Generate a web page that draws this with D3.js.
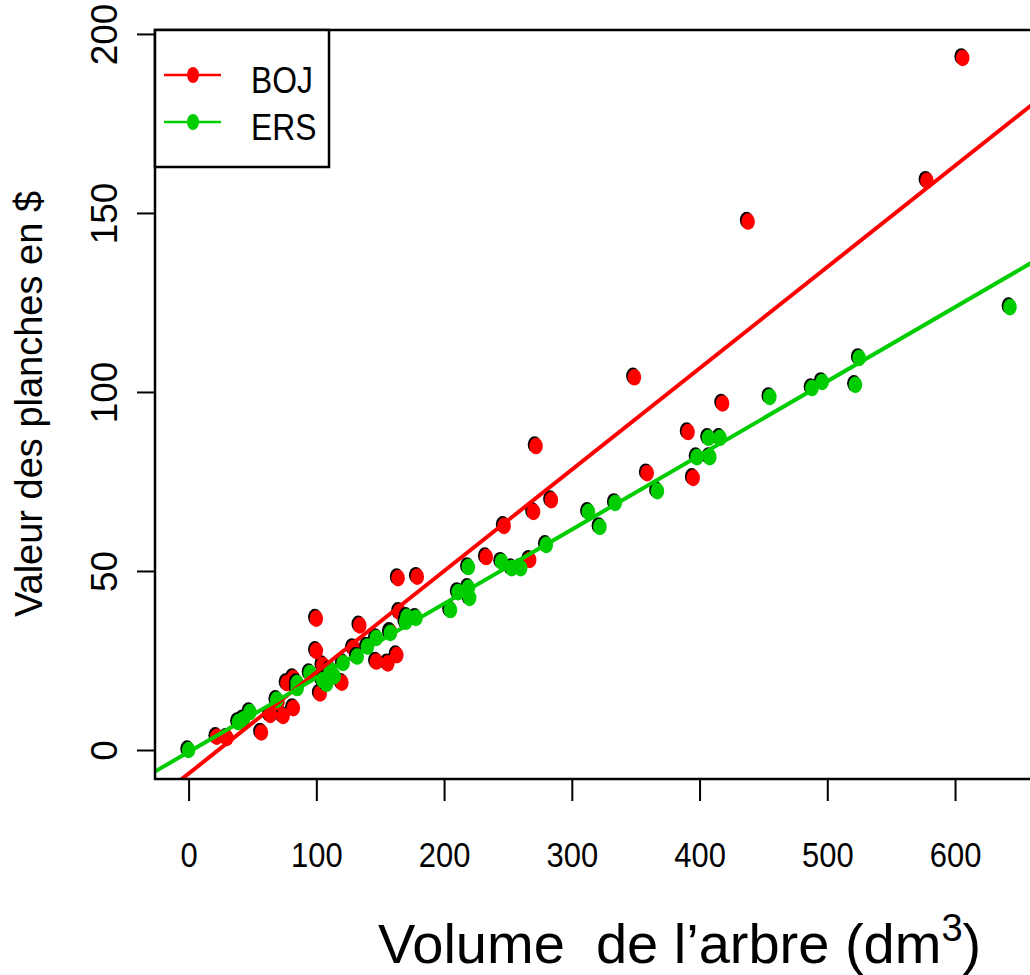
<!DOCTYPE html>
<html>
<head>
<meta charset="utf-8">
<script src="https://cdn.jsdelivr.net/npm/d3@7"></script>
<style>
body { margin:0; background:#fff; }
text { font-family: "Liberation Sans", Arial, sans-serif; fill:#000; }
</style>
</head>
<body>
<script>
var bojVol = [22,30,57,64,70,74,77,82,82,100,100,103,105,120,129,134,147,156,158,163,165,164,179,233,247,267,270,272,284,349,359,391,395,418,438,578,606];
var bojVal = [3.7,3.4,4.9,9.8,13.4,9.5,18.7,11.7,20.1,36.7,27.7,15.8,23.7,18.8,28.5,34.8,24.7,24.2,33,26.5,38.6,48.0,48.4,53.9,62.6,53.1,66.5,84.9,69.8,104.1,77.3,88.8,76.0,96.8,147.6,159.0,193.3];

var ersVol = [0,39,43,48,69,85,85,95,105,108,111,114,121,132,140,147,158,170,171,178,205,211,219,220,219,245,253,260,280,313,322,334,367,398,408,407,416,455,488,496,522,525,643];
var ersVal = [0,7.8,8.6,10.6,14.0,17.3,18.7,21.5,19.5,18.5,22.3,20.6,24.3,26.1,28.9,31.3,32.7,35.8,37.2,36.9,39.1,44.1,45.3,42.5,51.1,52.6,50.8,50.8,57.3,66.5,62.3,69.0,72.3,81.8,81.8,87.2,87.2,98.6,101.1,102.8,102.0,109.5,123.7];

// fitted lines (intercept, slope)
var bojFit = [-6.6, 0.2830];
var ersFit = [-0.56, 0.2071];

var xTicks = [0,100,200,300,400,500,600];
var yTicks = [0,50,100,150,200];
var seriesNames = ["BOJ","ERS"];
var seriesColors = ["#ff0000","#00cd00"];

var margin = {left:155, top:30};
var width = 892, height = 749;

var x = d3.scaleLinear().domain([-26.3,672]).range([0,width]);
var y = d3.scaleLinear().domain([-8.1,201.1]).range([height,0]);

var svg = d3.select("body").append("svg").attr("width",1030).attr("height",975);
svg.append("rect").attr("width",1030).attr("height",975).attr("fill","#fff");

var g = svg.append("g").attr("transform","translate("+margin.left+","+margin.top+")");

g.append("clipPath").attr("id","plotclip").append("rect").attr("width",width).attr("height",height);

var xAxis = d3.axisBottom(x).tickValues(xTicks).tickSize(22).tickFormat("");
var yAxis = d3.axisLeft(y).tickValues(yTicks).tickSize(18).tickFormat("");

var gx = g.append("g").attr("transform","translate(0,"+height+")").call(xAxis);
var gy = g.append("g").call(yAxis);
[gx,gy].forEach(function(a){
  a.select(".domain").remove();
  a.selectAll("line").attr("stroke","#000").attr("stroke-width",2);
});

gx.selectAll(".tick").append("g")
  .attr("transform","translate(0,88) scale(0.86,1)")
  .append("text").attr("text-anchor","middle").attr("font-size",36)
  .text(function(d){ return d; });

gy.selectAll(".tick").append("g")
  .attr("transform","translate(-38,0) rotate(-90)")
  .append("text").attr("text-anchor","middle").attr("font-size",37)
  .text(function(d){ return d; });

var pts = g.append("g");
function drawPoints(vols, vals, color){
  var d = vols.map(function(v,i){ return [v, vals[i]]; });
  var s = pts.append("g");
  s.selectAll("ellipse.sh").data(d).enter().append("ellipse")
    .attr("cx",function(p){ return x(p[0])-1.5; })
    .attr("cy",function(p){ return y(p[1])-1.5; })
    .attr("rx",6.8).attr("ry",8.3).attr("fill","#000");
  s.selectAll("ellipse.pt").data(d).enter().append("ellipse")
    .attr("cx",function(p){ return x(p[0]); })
    .attr("cy",function(p){ return y(p[1]); })
    .attr("rx",6.8).attr("ry",8.3).attr("fill",color);
}
drawPoints(bojVol, bojVal, seriesColors[0]);
drawPoints(ersVol, ersVal, seriesColors[1]);

var line = d3.line().x(function(d){ return x(d[0]); }).y(function(d){ return y(d[1]); });
[bojFit, ersFit].forEach(function(f,i){
  var xs = x.domain();
  g.append("path")
    .attr("d", line(xs.map(function(v){ return [v, f[0]+f[1]*v]; })))
    .attr("clip-path","url(#plotclip)")
    .attr("fill","none").attr("stroke",seriesColors[i]).attr("stroke-width",4);
});

g.append("rect").attr("width",width).attr("height",height)
  .attr("fill","none").attr("stroke","#000").attr("stroke-width",2.5);

// legend
var leg = svg.append("g");
leg.append("rect").attr("x",155).attr("y",30).attr("width",174).attr("height",137)
  .attr("fill","#fff").attr("stroke","#000").attr("stroke-width",2.5);
seriesNames.forEach(function(n,i){
  var ly = 75 + i*47;
  leg.append("line").attr("x1",164).attr("x2",221).attr("y1",ly).attr("y2",ly)
    .attr("stroke",seriesColors[i]).attr("stroke-width",2.5);
  leg.append("ellipse").attr("cx",193).attr("cy",ly).attr("rx",6).attr("ry",8).attr("fill",seriesColors[i]);
  leg.append("g").attr("transform","translate(251,"+(ly+18)+") scale(0.86,1)")
    .append("text").attr("font-size",37).text(n);
});

// axis titles
var xTitle = svg.append("text").attr("x",378).attr("y",963).attr("font-size",56);
xTitle.append("tspan").text("Volume\u00a0 de l\u2019arbre (dm");
xTitle.append("tspan").attr("font-size",38).attr("dy",-22).text("3");
xTitle.append("tspan").attr("dy",22).text(")");

svg.append("text").attr("transform","translate(42,404) rotate(-90)")
  .attr("text-anchor","middle").attr("font-size",38)
  .text("Valeur des planches en $");
</script>
</body>
</html>
